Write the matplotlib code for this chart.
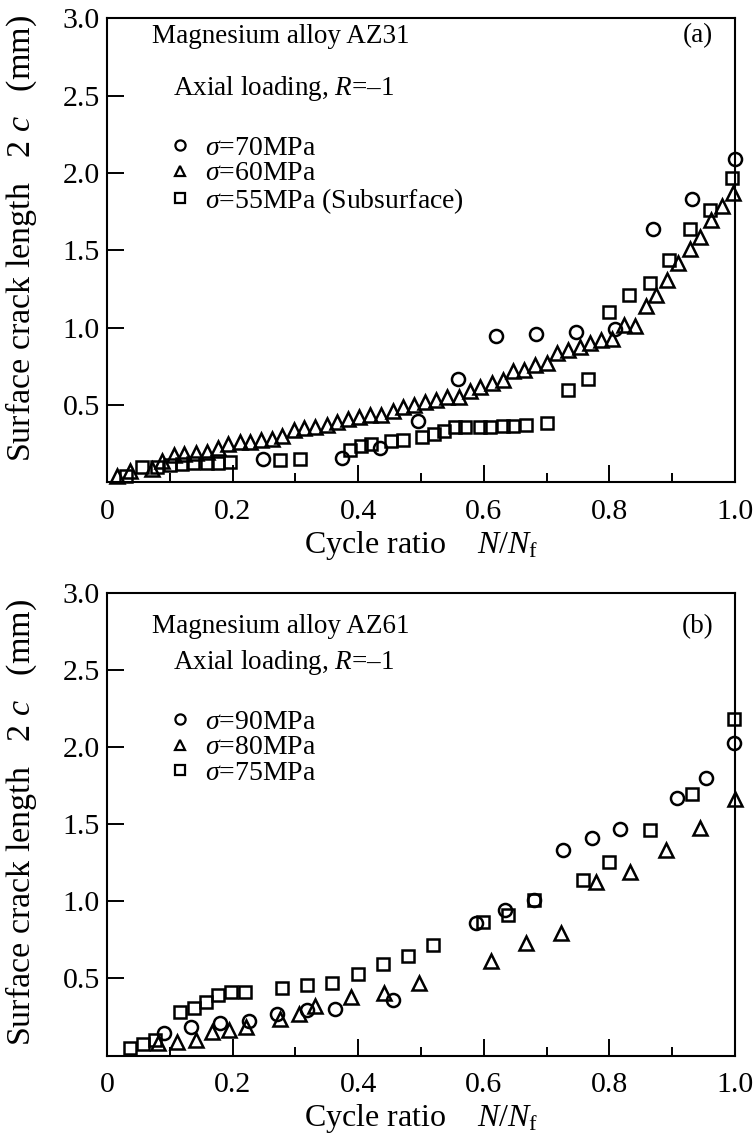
import matplotlib
matplotlib.use("Agg")
import matplotlib.pyplot as plt
from matplotlib.lines import Line2D

plt.rcParams['font.family'] = ['Liberation Serif', 'DejaVu Serif']
plt.rcParams['mathtext.fontset'] = 'custom'
plt.rcParams['mathtext.rm'] = 'Liberation Serif'
plt.rcParams['mathtext.it'] = 'Liberation Serif:italic'
plt.rcParams['mathtext.bf'] = 'Liberation Serif:bold'

# ---------------- Panel (a): AZ31 ----------------
a70_x = [0.248, 0.374, 0.435, 0.496, 0.559, 0.62, 0.683, 0.747, 0.809, 0.870, 0.932, 1.0]
a70_y = [0.15, 0.155, 0.22, 0.40, 0.667, 0.95, 0.96, 0.975, 0.99, 1.64, 1.83, 2.09]

a60_x = [0.016, 0.036, 0.071, 0.087, 0.106, 0.123, 0.141, 0.159, 0.176, 0.193, 0.212, 0.228,
         0.246, 0.262, 0.278, 0.297, 0.314, 0.331, 0.35, 0.367, 0.384, 0.402, 0.419, 0.437,
         0.455, 0.472, 0.489, 0.506, 0.524, 0.541, 0.561, 0.578, 0.594, 0.613, 0.63, 0.647,
         0.664, 0.682, 0.70, 0.716, 0.734, 0.753, 0.769, 0.787, 0.804, 0.823, 0.841, 0.858,
         0.874, 0.891, 0.91, 0.928, 0.944, 0.961, 0.979, 0.997]
a60_y = [0.04, 0.076, 0.087, 0.139, 0.178, 0.184, 0.19, 0.2, 0.22, 0.249, 0.264, 0.264,
         0.275, 0.279, 0.303, 0.34, 0.35, 0.361, 0.372, 0.393, 0.41, 0.426, 0.437, 0.437,
         0.462, 0.486, 0.50, 0.52, 0.53, 0.55, 0.55, 0.594, 0.62, 0.64, 0.66, 0.72,
         0.73, 0.76, 0.775, 0.84, 0.857, 0.878, 0.904, 0.92, 0.93, 1.02, 1.01, 1.14,
         1.21, 1.31, 1.42, 1.51, 1.59, 1.70, 1.79, 1.87]

a55_x = [0.03, 0.055, 0.079, 0.10, 0.12, 0.137, 0.159, 0.177, 0.196, 0.275, 0.307,
         0.387, 0.405, 0.421, 0.453, 0.472, 0.501, 0.52, 0.536, 0.554, 0.57, 0.594, 0.61,
         0.631, 0.647, 0.667, 0.70, 0.734, 0.766, 0.80, 0.832, 0.865, 0.895, 0.928, 0.96, 0.995]
a55_y = [0.04, 0.10, 0.10, 0.11, 0.12, 0.126, 0.128, 0.128, 0.135, 0.145, 0.15,
         0.21, 0.235, 0.249, 0.265, 0.272, 0.296, 0.314, 0.33, 0.36, 0.36, 0.357, 0.36,
         0.365, 0.365, 0.372, 0.383, 0.598, 0.667, 1.10, 1.21, 1.29, 1.44, 1.64, 1.76, 1.97]

# ---------------- Panel (b): AZ61 ----------------
b90_x = [0.09, 0.134, 0.18, 0.226, 0.271, 0.318, 0.363, 0.455, 0.588, 0.634, 0.68,
         0.726, 0.772, 0.817, 0.907, 0.954, 0.998]
b90_y = [0.148, 0.187, 0.209, 0.226, 0.269, 0.295, 0.30, 0.36, 0.861, 0.947, 1.012,
         1.336, 1.414, 1.472, 1.673, 1.803, 2.027]

b80_x = [0.082, 0.111, 0.141, 0.167, 0.194, 0.222, 0.276, 0.306, 0.332, 0.388, 0.441,
         0.497, 0.611, 0.668, 0.723, 0.778, 0.833, 0.89, 0.945, 0.9995]
b80_y = [0.079, 0.09, 0.10, 0.154, 0.165, 0.183, 0.235, 0.269, 0.321, 0.381, 0.403,
         0.47, 0.615, 0.727, 0.792, 1.127, 1.191, 1.332, 1.476, 1.667]

b75_x = [0.037, 0.057, 0.077, 0.117, 0.138, 0.158, 0.176, 0.198, 0.219, 0.279, 0.319,
         0.359, 0.399, 0.439, 0.479, 0.519, 0.599, 0.638, 0.68, 0.758, 0.80, 0.865,
         0.931, 0.998]
b75_y = [0.047, 0.075, 0.10, 0.284, 0.306, 0.35, 0.39, 0.41, 0.415, 0.435, 0.457,
         0.468, 0.528, 0.593, 0.648, 0.716, 0.867, 0.91, 1.008, 1.14, 1.256, 1.466,
         1.695, 2.18]

xticks = [0, 0.2, 0.4, 0.6, 0.8, 1.0]
xtick_labels = ['0', '0.2', '0.4', '0.6', '0.8', '1.0']
yticks = [0.5, 1.0, 1.5, 2.0, 2.5, 3.0]
ytick_labels = ['0.5', '1.0', '1.5', '2.0', '2.5', '3.0']

panels = [
    dict(title='Magnesium alloy AZ31', tag='(a)', title_y=0.962, ylabel_y=0.525,
         series=[(a70_x, a70_y, 'o', r'$\sigma$=70MPa'),
                 (a60_x, a60_y, '^', r'$\sigma$=60MPa'),
                 (a55_x, a55_y, 's', r'$\sigma$=55MPa (Subsurface)')]),
    dict(title='Magnesium alloy AZ61', tag='(b)', title_y=0.927, ylabel_y=0.505,
         series=[(b90_x, b90_y, 'o', r'$\sigma$=90MPa'),
                 (b80_x, b80_y, '^', r'$\sigma$=80MPa'),
                 (b75_x, b75_y, 's', r'$\sigma$=75MPa')]),
]

fig = plt.figure(figsize=(7.55, 11.4), dpi=100)
rects = [[0.1417, 0.5768, 0.8318, 0.4070], [0.1417, 0.0741, 0.8318, 0.4057]]

msize = {'o': 9.4, '^': 10.0, 's': 9.0}

for rect, p in zip(rects, panels):
    ax = fig.add_axes(rect)
    for xs, ys, m, lab in p['series']:
        ax.plot(xs, ys, linestyle='none', marker=m, markersize=msize[m],
                markerfacecolor='none', markeredgecolor='black',
                markeredgewidth=1.8, clip_on=False, zorder=3)
    ax.set_xlim(0, 1.0)
    ax.set_ylim(0, 3.0)
    ax.set_xticks(xticks)
    ax.set_xticklabels(xtick_labels)
    ax.set_xticks([0.1, 0.3, 0.5, 0.7, 0.9], minor=True)
    ax.set_yticks(yticks)
    ax.set_yticklabels(ytick_labels)
    ax.tick_params(axis='both', which='major', direction='in', length=12.5, width=1.4,
                   labelsize=21.5, top=False, right=False)
    ax.tick_params(axis='x', which='major', pad=12)
    ax.tick_params(axis='y', which='major', pad=5)
    ax.tick_params(axis='x', which='minor', direction='in', length=6.5, width=1.4,
                   top=False)
    for s in ax.spines.values():
        s.set_linewidth(1.5)
    ax.set_xlabel(r'Cycle ratio    $N/N_\mathrm{f}$', fontsize=23)
    ax.xaxis.set_label_coords(0.5, -0.1)
    ax.set_ylabel(r'Surface crack length   2 $c$   (mm)', fontsize=24.5)
    ax.yaxis.set_label_coords(-0.108, p['ylabel_y'])

    ax.text(0.072, p['title_y'], p['title'], transform=ax.transAxes, fontsize=19.5,
            ha='left', va='center')
    ax.text(0.105, 0.849, r'Axial loading, $R$=–1', transform=ax.transAxes,
            fontsize=19.5, ha='left', va='center')
    ax.text(0.965, p['title_y'], p['tag'], transform=ax.transAxes, fontsize=19.5,
            ha='right', va='center')

    handles = [Line2D([], [], linestyle='none', marker=m, markersize=msize[m] * 0.78,
                      markerfacecolor='none', markeredgecolor='black',
                      markeredgewidth=1.6) for _, _, m, _ in p['series']]
    labels = [lab for _, _, _, lab in p['series']]
    ax.legend(handles, labels, loc='upper left', bbox_to_anchor=(0.097, 0.748),
              frameon=False, fontsize=20, handlelength=0.9, handletextpad=0.45,
              labelspacing=0.0, borderaxespad=0, borderpad=0)

fig.savefig('out.png', dpi=100)
